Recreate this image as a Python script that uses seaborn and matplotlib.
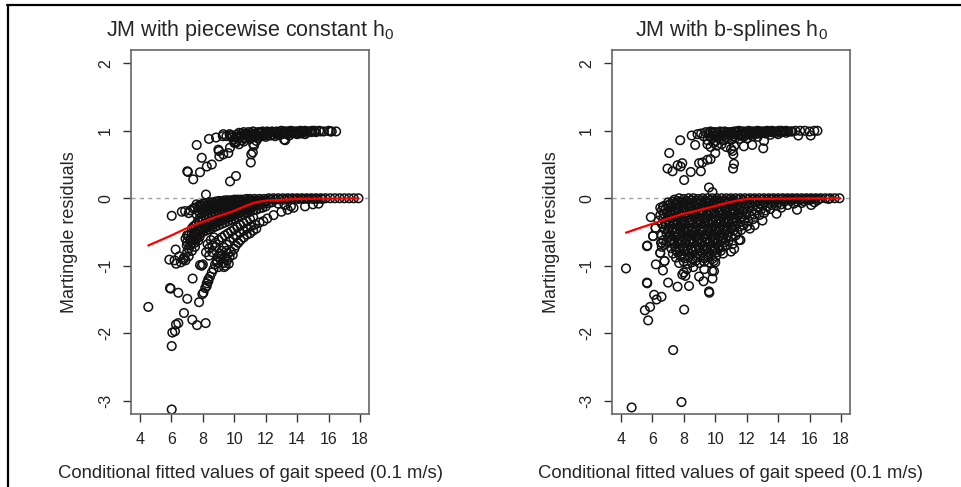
import matplotlib
matplotlib.use("Agg")
import matplotlib.pyplot as plt
from matplotlib.lines import Line2D
import seaborn as sns
import pandas as pd

sns.set_style("white")
plt.rcParams['font.family'] = ['Liberation Sans', 'DejaVu Sans']

# ---------------- data: panel 1 (piecewise constant baseline hazard) ----------------
pc_upper = [
    # dense band near 1
    (10.3,0.97),(10.6,0.98),(10.9,0.98),(11.2,0.99),(11.5,0.98),(11.8,0.99),(12.1,0.99),(12.4,0.99),
    (12.7,0.99),(13.0,1.0),(13.3,0.99),(13.6,1.0),(13.9,0.99),(14.2,1.0),(14.5,1.0),(14.8,0.99),
    (15.1,1.0),(15.4,1.0),(15.7,0.99),(16.0,1.0),(16.2,0.99),(16.48,0.99),
    (9.9,0.93),(10.15,0.94),(10.4,0.92),(10.65,0.95),(10.9,0.93),(11.15,0.95),(11.4,0.94),(11.65,0.96),
    (11.9,0.95),(12.15,0.96),(12.4,0.95),(12.65,0.97),(12.9,0.96),(13.15,0.97),(13.4,0.96),(13.7,0.98),
    (14.0,0.97),(14.3,0.98),(14.6,0.97),(14.9,0.98),(15.2,0.98),(15.5,0.99),
    (10.0,0.87),(10.25,0.89),(10.5,0.86),(10.75,0.90),(11.0,0.88),(11.25,0.91),(11.5,0.89),(11.75,0.92),
    (12.0,0.91),(12.3,0.93),(12.6,0.92),(12.9,0.94),(13.24,0.86),(13.5,0.93),(14.0,0.95),(14.5,0.95),
    (10.45,0.96),(10.75,0.95),(11.05,0.97),(11.35,0.96),(11.65,0.98),(11.95,0.97),(12.25,0.98),(12.55,0.98),
    (12.85,0.98),(13.15,0.99),(13.45,0.99),(13.75,0.99),(14.05,0.99),(14.35,0.99),(14.65,0.99),(14.95,1.0),
    (10.1,0.90),(10.35,0.91),(10.6,0.89),(10.85,0.92),(11.1,0.90),(11.35,0.92),(11.6,0.91),(11.85,0.93),
    (12.1,0.93),(12.45,0.94),(12.75,0.94),(13.05,0.95),(13.35,0.95),(13.65,0.96),(13.95,0.96),(14.25,0.96),
    (9.3,0.95),(9.5,0.92),(9.7,0.95),(9.85,0.90),(10.1,0.82),(10.3,0.80),(10.6,0.84),(11.2,0.80),(11.4,0.85),
    # scattered points below the band
    (7.61,0.79),(7.93,0.60),(7.01,0.40),(7.05,0.39),(7.39,0.28),(7.82,0.385),(8.25,0.47),(8.57,0.50),
    (8.20,0.055),(9.73,0.25),(10.11,0.33),(8.39,0.88),(8.84,0.90),(9.27,0.92),(9.73,0.93),(8.99,0.72),
    (9.02,0.70),(9.05,0.62),(9.30,0.65),(9.62,0.67),(9.73,0.75),(10.0,0.82),(10.05,0.84),(11.08,0.65),
    (11.05,0.53),(11.18,0.68),(11.26,0.78),(13.17,0.87),(16.1,0.99),(15.1,0.99),
]

pc_lower = [
    # band hugging zero
    (7.6,-0.09),(7.8,-0.10),(8.0,-0.08),(8.2,-0.07),(8.4,-0.06),(8.6,-0.06),(8.8,-0.05),(9.0,-0.04),
    (9.2,-0.04),(9.4,-0.03),(9.6,-0.03),(9.8,-0.03),(10.0,-0.02),(10.2,-0.02),(10.4,-0.02),(10.6,-0.02),
    (10.8,-0.01),(11.0,-0.01),(11.3,-0.01),(11.6,-0.01),(11.9,-0.01),(12.2,0.0),(12.5,0.0),(12.8,0.0),
    (13.1,0.0),(13.4,0.0),(13.7,0.0),(14.0,0.0),(14.3,0.0),(14.6,0.0),(14.9,0.0),(15.2,0.0),(15.5,0.0),
    (15.8,0.0),(16.1,0.0),(16.4,0.0),(16.7,0.0),(17.0,0.0),(17.3,0.0),(17.6,0.0),(17.9,0.0),
    (7.7,-0.18),(7.9,-0.17),(8.1,-0.15),(8.3,-0.14),(8.5,-0.13),(8.7,-0.12),(8.9,-0.11),(9.1,-0.10),
    (9.3,-0.09),(9.5,-0.08),(9.7,-0.08),(9.9,-0.07),(10.1,-0.06),(10.3,-0.06),(10.5,-0.05),(10.7,-0.05),
    (10.9,-0.04),(11.1,-0.04),(11.4,-0.03),(11.7,-0.03),(12.0,-0.03),(12.3,-0.02),(12.6,-0.02),(12.9,-0.02),
    (13.2,-0.02),(13.5,-0.01),(13.8,-0.01),(14.1,-0.01),(14.4,-0.01),(14.7,-0.01),(15.0,-0.01),(15.3,-0.01),
    (15.6,-0.01),
    (7.5,-0.14),(7.7,-0.13),(7.9,-0.12),(8.1,-0.11),(8.3,-0.10),(8.5,-0.09),(8.7,-0.08),(8.9,-0.08),
    (9.1,-0.07),(9.3,-0.06),(9.5,-0.05),(9.7,-0.05),(9.9,-0.04),(10.1,-0.04),(10.3,-0.03),
    # dense region above/around the smooth
    (7.3,-0.45),(7.5,-0.40),(7.7,-0.33),(7.9,-0.28),(8.1,-0.25),(8.3,-0.24),(8.5,-0.22),(8.7,-0.20),
    (8.9,-0.18),(9.1,-0.17),(9.3,-0.15),(9.5,-0.14),(9.7,-0.13),(9.9,-0.12),(10.1,-0.11),(10.3,-0.10),
    (10.5,-0.09),(10.7,-0.08),(10.9,-0.07),(11.1,-0.06),(11.3,-0.06),(11.5,-0.05),(11.7,-0.05),(12.0,-0.05),
    (12.4,-0.06),(12.8,-0.08),(13.2,-0.10),(13.6,-0.12),(13.77,-0.14),(14.5,-0.12),(15.0,-0.09),(15.36,-0.08),
    (7.4,-0.42),(7.6,-0.38),(7.8,-0.36),(8.0,-0.34),(8.2,-0.32),(8.4,-0.30),(8.6,-0.28),(8.8,-0.26),
    (9.0,-0.24),(9.2,-0.23),(9.4,-0.21),(9.6,-0.19),(9.8,-0.18),(10.0,-0.17),(10.2,-0.15),(10.4,-0.14),
    (10.6,-0.12),(10.8,-0.11),(11.0,-0.10),(11.2,-0.09),(11.4,-0.08),
    (7.6,-0.24),(7.8,-0.22),(8.0,-0.20),(8.2,-0.19),(8.4,-0.18),(8.6,-0.16),(8.8,-0.15),(9.0,-0.14),
    (9.2,-0.12),(9.4,-0.11),(9.6,-0.10),(9.8,-0.10),(10.0,-0.09),
    (7.1,-0.55),(7.3,-0.52),(7.5,-0.50),(7.7,-0.47),(7.9,-0.44),(8.1,-0.41),(8.3,-0.39),(8.5,-0.36),
    (8.7,-0.34),(8.9,-0.32),(9.1,-0.30),(9.3,-0.28),(9.5,-0.26),(9.7,-0.24),(9.9,-0.22),(10.1,-0.20),
    (10.3,-0.18),(10.5,-0.16),(10.7,-0.15),(10.9,-0.13),(11.1,-0.12),(11.3,-0.11),(11.5,-0.10),(11.7,-0.09),
    (11.9,-0.08),(12.2,-0.07),
    (7.2,-0.60),(7.4,-0.55),(7.6,-0.52),(7.8,-0.49),(8.0,-0.46),(8.2,-0.44),(8.4,-0.42),(8.6,-0.40),
    (8.8,-0.37),(9.0,-0.35),(9.2,-0.33),(9.4,-0.31),(9.6,-0.29),(9.8,-0.27),(10.0,-0.25),(10.2,-0.23),
    (10.4,-0.21),(10.6,-0.19),(10.8,-0.17),(11.0,-0.15),
    (7.0,-0.65),(7.2,-0.62),(7.4,-0.58),(7.6,-0.56),(7.8,-0.53),(8.0,-0.50),(8.2,-0.48),(8.4,-0.46),
    (8.6,-0.44),(8.8,-0.42),(9.0,-0.40),(9.2,-0.38),(9.4,-0.36),(9.6,-0.34),(9.8,-0.32),(10.0,-0.30),
    (10.2,-0.28),(10.4,-0.26),(10.6,-0.24),(10.8,-0.22),(11.0,-0.20),(11.2,-0.18),(11.4,-0.17),(11.6,-0.15),
    (11.8,-0.14),(12.0,-0.12),
    # streaks in the fan
    (8.04,-1.40),(8.15,-1.33),(8.25,-1.26),(8.35,-1.20),(8.46,-1.16),(8.57,-1.10),(8.68,-1.05),(8.78,-0.98),
    (8.90,-0.92),(8.99,-0.86),(9.10,-0.82),(9.20,-0.78),(9.35,-0.73),(9.52,-0.69),(9.70,-0.64),(9.94,-0.59),
    (10.15,-0.55),(10.37,-0.51),(10.6,-0.48),(10.8,-0.45),(11.05,-0.42),(11.32,-0.39),(11.6,-0.36),(11.85,-0.34),
    (12.1,-0.30),(12.5,-0.25),(13.0,-0.20),(13.4,-0.17),
    (8.2,-0.80),(8.4,-0.74),(8.6,-0.70),(8.8,-0.66),(9.0,-0.62),(9.2,-0.58),(9.4,-0.55),(9.6,-0.52),
    (9.8,-0.49),(10.0,-0.46),(10.2,-0.43),(10.4,-0.40),(10.6,-0.37),(10.8,-0.34),(11.0,-0.31),(11.2,-0.28),
    (8.9,-0.95),(9.0,-1.02),(9.1,-0.90),(9.2,-0.85),(9.3,-0.96),(9.4,-0.88),(9.45,-1.00),(9.55,-0.92),
    (9.6,-0.82),(9.7,-0.87),(9.8,-0.79),(9.9,-0.84),(10.0,-0.75),(10.1,-0.70),(10.25,-0.66),(10.4,-0.62),
    (10.6,-0.58),(10.8,-0.54),(11.0,-0.52),(11.2,-0.48),(11.4,-0.45),(9.35,-1.02),(9.65,-0.97),(9.5,-0.78),
    (6.8,-0.88),(6.9,-0.92),(7.0,-0.80),(7.1,-0.75),(7.2,-0.70),(7.3,-0.66),(7.4,-0.62),(7.5,-0.66),
    (7.6,-0.60),(7.7,-0.63),(7.8,-0.57),(7.1,-0.86),(7.3,-0.78),(7.5,-0.72),(7.93,-1.00),(8.0,-0.98),
    (6.6,-0.95),(6.5,-0.86),(6.27,-0.76),(6.2,-0.92),(6.3,-0.97),(6.76,-0.91),(6.98,-0.70),(6.9,-0.60),
    (7.0,-0.55),(8.3,-0.68),(8.5,-0.62),(8.7,-0.58),(8.4,-0.85),(8.6,-0.80),(8.8,-0.72),
    # isolated points
    (4.53,-1.61),(6.02,-0.26),(6.66,-0.20),(6.87,-0.19),(5.87,-0.91),(5.91,-1.33),(5.95,-1.34),(6.44,-1.40),
    (7.01,-1.49),(6.80,-1.70),(6.44,-1.85),(6.29,-1.87),(6.06,-1.99),(6.23,-1.97),(6.02,-2.19),(6.02,-3.13),
    (7.35,-1.19),(7.76,-1.54),(7.33,-1.80),(7.63,-1.88),(8.18,-1.85),(7.97,-1.42),(8.25,-1.30),(8.35,-1.23),
    (7.82,-0.99),(7.2,-0.18),(7.4,-0.15),(7.1,-0.22),
]

pc_smooth_x = [4.53, 5.91, 6.6, 7.29, 8.0, 8.67, 9.3, 9.94, 10.6, 11.21, 11.6, 12.06, 14.1, 17.9]
pc_smooth_y = [-0.70, -0.56, -0.485, -0.41, -0.35, -0.29, -0.24, -0.19, -0.125, -0.07, -0.05, -0.035, -0.01, 0.0]

# ---------------- data: panel 2 (b-splines baseline hazard) ----------------
bs_upper = [
    (9.4,0.98),(9.7,0.99),(10.0,0.98),(10.3,0.99),(10.6,0.99),(10.9,0.98),(11.2,0.99),(11.5,1.0),
    (11.8,0.99),(12.1,1.0),(12.4,0.99),(12.7,1.0),(13.0,0.99),(13.3,1.0),(13.6,1.0),(13.9,0.99),
    (14.2,1.0),(14.5,1.0),(14.8,0.99),(15.1,1.0),(15.4,1.0),(15.7,1.0),(16.0,0.99),(16.3,1.0),(16.5,1.0),
    (9.6,0.94),(9.85,0.96),(10.1,0.93),(10.35,0.95),(10.6,0.94),(10.85,0.96),(11.1,0.95),(11.35,0.97),
    (11.6,0.95),(11.85,0.97),(12.1,0.96),(12.4,0.97),(12.7,0.96),(13.0,0.98),(13.3,0.97),(13.6,0.98),
    (13.9,0.97),(14.2,0.98),(14.5,0.97),(14.9,0.99),(15.28,0.93),(16.07,0.93),
    (9.5,0.86),(9.8,0.89),(10.05,0.85),(10.3,0.88),(10.55,0.86),(10.8,0.89),(11.05,0.87),(11.3,0.90),
    (11.55,0.88),(11.8,0.91),(12.05,0.89),(12.35,0.92),(12.7,0.91),(13.1,0.85),(13.5,0.94),(14.0,0.95),
    (9.55,0.97),(9.85,0.98),(10.15,0.97),(10.45,0.98),(10.75,0.97),(11.05,0.98),(11.35,0.99),(11.65,0.99),
    (11.95,0.98),(12.25,0.99),(12.55,0.99),(12.85,0.99),(13.15,0.99),(13.45,0.99),(13.75,0.99),(14.05,1.0),
    (14.35,0.99),(14.65,0.99),(9.7,0.91),(9.95,0.92),(10.2,0.90),(10.45,0.92),(10.7,0.91),(10.95,0.93),
    (11.2,0.92),(11.45,0.94),(11.7,0.93),(11.95,0.94),(12.25,0.95),(12.55,0.95),(12.85,0.96),(13.2,0.96),
    (9.5,0.80),(9.7,0.76),(9.9,0.82),(10.1,0.78),(10.4,0.80),(10.7,0.76),(11.0,0.73),(11.2,0.77),
    (11.82,0.77),(12.35,0.79),(13.05,0.74),(10.0,0.67),(11.13,0.44),(11.19,0.51),(11.15,0.65),(11.1,0.70),
    (7.77,0.86),(7.07,0.67),(6.96,0.44),(7.28,0.40),(7.6,0.49),(7.9,0.52),(7.8,0.47),(8.02,0.27),
    (8.44,0.39),(8.72,0.79),(8.5,0.93),(8.87,0.95),(8.97,0.52),(9.18,0.53),(9.08,0.40),(9.5,0.57),
    (9.7,0.58),(9.6,0.16),(9.82,0.09),(9.1,0.96),(9.25,0.92),
]

bs_lower = [
    (7.4,-0.02),(7.7,0.0),(8.0,-0.01),(8.3,0.0),(8.6,0.0),(8.9,-0.01),(9.2,0.0),(9.5,0.0),(9.8,0.0),
    (10.1,0.0),(10.4,0.0),(10.7,0.0),(11.0,0.0),(11.3,0.0),(11.6,0.0),(11.9,0.0),(12.2,0.0),(12.5,0.0),
    (12.8,0.0),(13.1,0.0),(13.4,0.0),(13.7,0.0),(14.0,0.0),(14.3,0.0),(14.6,0.0),(14.9,0.0),(15.2,0.0),
    (15.5,0.0),(15.8,0.0),(16.1,0.0),(16.4,0.0),(16.7,0.0),(17.0,0.0),(17.3,0.0),(17.6,0.0),(17.9,0.0),
    (7.0,-0.06),(7.3,-0.05),(7.6,-0.04),(7.9,-0.05),(8.2,-0.04),(8.5,-0.03),(8.8,-0.04),(9.1,-0.03),
    (9.4,-0.04),(9.7,-0.03),(10.0,-0.03),(10.3,-0.04),(10.6,-0.03),(10.9,-0.02),(11.2,-0.03),(11.5,-0.02),
    (11.8,-0.03),(12.1,-0.02),(12.4,-0.02),(12.7,-0.03),(13.0,-0.02),(13.3,-0.02),(13.6,-0.01),(13.9,-0.02),
    (14.2,-0.01),(14.5,-0.02),(14.8,-0.01),(15.1,-0.01),(15.4,-0.02),(15.7,-0.01),(16.0,-0.01),(16.3,-0.01),
    (16.6,-0.01),(17.2,-0.01),
    (6.7,-0.12),(7.0,-0.10),(7.2,-0.13),(7.45,-0.09),(7.7,-0.11),(7.95,-0.10),(8.2,-0.09),(8.45,-0.11),
    (8.7,-0.10),(8.95,-0.09),(9.2,-0.10),(9.45,-0.08),(9.7,-0.10),(9.95,-0.09),(10.2,-0.08),(10.45,-0.10),
    (10.7,-0.08),(10.95,-0.09),(11.2,-0.07),(11.45,-0.09),(11.7,-0.07),(11.95,-0.08),(12.2,-0.07),(12.5,-0.06),
    (12.8,-0.08),(13.1,-0.06),(13.4,-0.07),(13.7,-0.05),(14.0,-0.06),(14.4,-0.05),(14.8,-0.04),(15.2,-0.05),
    (15.6,-0.04),(16.0,-0.03),(16.5,-0.03),
    (6.6,-0.18),(6.85,-0.16),(7.1,-0.19),(7.35,-0.17),(7.6,-0.16),(7.85,-0.18),(8.1,-0.17),(8.35,-0.15),
    (8.6,-0.18),(8.85,-0.16),(9.1,-0.17),(9.35,-0.15),(9.6,-0.17),(9.85,-0.16),(10.1,-0.15),(10.35,-0.17),
    (10.6,-0.15),(10.85,-0.14),(11.1,-0.16),(11.35,-0.14),(11.6,-0.13),(11.85,-0.15),(12.1,-0.13),(12.4,-0.12),
    (12.7,-0.13),(13.0,-0.11),(13.3,-0.12),(13.6,-0.10),(13.9,-0.11),(14.2,-0.09),(14.6,-0.10),(15.0,-0.08),
    (15.2,-0.17),(15.5,-0.07),(16.1,-0.10),(16.3,-0.06),
    (6.5,-0.25),(6.75,-0.23),(7.0,-0.26),(7.25,-0.24),(7.5,-0.22),(7.75,-0.25),(8.0,-0.23),(8.25,-0.24),
    (8.5,-0.22),(8.75,-0.25),(9.0,-0.23),(9.25,-0.22),(9.5,-0.24),(9.75,-0.22),(10.0,-0.23),(10.25,-0.21),
    (10.5,-0.23),(10.75,-0.21),(11.0,-0.22),(11.25,-0.20),(11.5,-0.21),(11.75,-0.19),(12.0,-0.20),(12.3,-0.19),
    (12.6,-0.18),(12.9,-0.17),(13.2,-0.18),(13.5,-0.16),(13.9,-0.23),(14.2,-0.14),
    (6.4,-0.33),(6.7,-0.30),(6.95,-0.32),(7.2,-0.29),(7.45,-0.31),(7.7,-0.30),(7.95,-0.32),(8.2,-0.30),
    (8.45,-0.31),(8.7,-0.29),(8.95,-0.31),(9.2,-0.30),(9.45,-0.29),(9.7,-0.31),(9.95,-0.29),(10.2,-0.30),
    (10.45,-0.28),(10.7,-0.29),(10.95,-0.27),(11.2,-0.28),(11.45,-0.26),(11.7,-0.27),(11.95,-0.25),(12.2,-0.26),
    (12.5,-0.24),(12.8,-0.25),(13.1,-0.22),
    (6.2,-0.44),(6.6,-0.38),(6.85,-0.40),(7.1,-0.37),(7.35,-0.39),(7.6,-0.38),(7.85,-0.36),(8.1,-0.39),
    (8.35,-0.37),(8.6,-0.38),(8.85,-0.36),(9.1,-0.38),(9.35,-0.37),(9.6,-0.39),(9.85,-0.36),(10.1,-0.38),
    (10.35,-0.36),(10.6,-0.37),(10.85,-0.35),(11.1,-0.36),(11.35,-0.34),(11.6,-0.35),(11.85,-0.33),(12.1,-0.34),
    (12.4,-0.31),
    (6.04,-0.56),(6.8,-0.46),(7.05,-0.44),(7.3,-0.46),(7.55,-0.45),(7.8,-0.43),(8.05,-0.46),(8.3,-0.44),
    (8.55,-0.45),(8.8,-0.43),(9.05,-0.46),(9.3,-0.44),(9.55,-0.45),(9.8,-0.43),(10.05,-0.45),(10.3,-0.43),
    (10.55,-0.44),(10.8,-0.42),(11.05,-0.43),(11.3,-0.41),(11.55,-0.42),(11.8,-0.40),(12.05,-0.41),(12.2,-0.45),
    (6.6,-0.55),(6.9,-0.52),(7.15,-0.54),(7.4,-0.51),(7.65,-0.53),(7.9,-0.52),(8.15,-0.50),(8.4,-0.53),
    (8.65,-0.51),(8.9,-0.52),(9.15,-0.50),(9.4,-0.53),(9.65,-0.51),(9.9,-0.52),(10.15,-0.50),(10.4,-0.51),
    (10.65,-0.49),(10.9,-0.50),(11.15,-0.48),(11.4,-0.49),(11.65,-0.47),
    (6.7,-0.62),(7.0,-0.59),(7.25,-0.61),(7.5,-0.58),(7.75,-0.60),(8.0,-0.59),(8.25,-0.57),(8.5,-0.60),
    (8.75,-0.58),(9.0,-0.59),(9.25,-0.57),(9.5,-0.60),(9.75,-0.58),(10.0,-0.59),(10.25,-0.57),(10.5,-0.58),
    (10.75,-0.56),(11.0,-0.57),(11.3,-0.55),(11.5,-0.62),
    (6.55,-0.66),(6.85,-0.68),(7.1,-0.65),(7.35,-0.67),(7.6,-0.66),(7.85,-0.64),(8.1,-0.67),(8.35,-0.65),
    (8.6,-0.66),(8.85,-0.64),(9.1,-0.67),(9.35,-0.65),(9.6,-0.66),(9.85,-0.64),(10.1,-0.66),(10.35,-0.64),
    (10.6,-0.65),(10.85,-0.63),(11.1,-0.68),
    (6.6,-0.72),(7.2,-0.74),(7.45,-0.72),(7.7,-0.75),(7.95,-0.73),(8.2,-0.71),(8.45,-0.74),(8.7,-0.72),
    (8.95,-0.73),(9.2,-0.71),(9.45,-0.74),(9.7,-0.72),(9.95,-0.73),(10.2,-0.71),(10.45,-0.72),(10.7,-0.70),
    (11.0,-0.79),
    (6.5,-0.81),(7.3,-0.82),(7.6,-0.80),(7.85,-0.83),(8.1,-0.79),(8.35,-0.81),(8.6,-0.79),(8.85,-0.82),
    (9.1,-0.80),(9.35,-0.78),(9.6,-0.81),(9.85,-0.79),(10.1,-0.80),(10.35,-0.78),
    (6.77,-0.93),(7.5,-0.88),(7.8,-0.86),(8.05,-0.89),(8.3,-0.87),(8.55,-0.90),(8.8,-0.88),(9.05,-0.86),
    (9.3,-0.89),(9.55,-0.87),(9.8,-0.90),(10.05,-0.86),
    (7.7,-0.96),(8.0,-0.94),(8.25,-0.97),(8.5,-0.95),(8.75,-0.93),(9.0,-0.96),(9.3,-0.94),(9.6,-0.95),(9.9,-0.93),
    # extra fill of the dense core
    (7.15,-0.08),(7.55,-0.07),(7.85,-0.07),(8.1,-0.06),(8.35,-0.07),(8.6,-0.06),(8.85,-0.07),(9.1,-0.06),
    (9.35,-0.06),(9.6,-0.06),(9.85,-0.06),(10.1,-0.05),(10.35,-0.06),(10.6,-0.05),(10.85,-0.05),(11.1,-0.05),
    (6.9,-0.21),(7.2,-0.21),(7.45,-0.20),(7.7,-0.21),(7.95,-0.20),(8.2,-0.21),(8.45,-0.19),(8.7,-0.21),
    (8.95,-0.20),(9.2,-0.19),(9.45,-0.20),(9.7,-0.19),(9.95,-0.20),(10.2,-0.18),(10.45,-0.19),(10.7,-0.18),
    (10.95,-0.18),(11.2,-0.17),(11.5,-0.17),
    (6.8,-0.35),(7.05,-0.34),(7.3,-0.35),(7.55,-0.34),(7.8,-0.33),(8.05,-0.35),(8.3,-0.34),(8.55,-0.33),
    (8.8,-0.34),(9.05,-0.33),(9.3,-0.34),(9.55,-0.33),(9.8,-0.32),(10.05,-0.33),(10.3,-0.32),(10.55,-0.32),
    (10.8,-0.31),(11.05,-0.31),(11.3,-0.30),(11.6,-0.30),
    (7.0,-0.49),(7.25,-0.48),(7.5,-0.49),(7.75,-0.48),(8.0,-0.49),(8.25,-0.47),(8.5,-0.48),(8.75,-0.47),
    (9.0,-0.48),(9.25,-0.47),(9.5,-0.48),(9.75,-0.47),(10.0,-0.47),(10.25,-0.46),(10.5,-0.47),(10.75,-0.46),
    (11.0,-0.45),
    (7.15,-0.63),(7.4,-0.63),(7.65,-0.62),(7.9,-0.63),(8.15,-0.62),(8.4,-0.63),(8.65,-0.62),(8.9,-0.61),
    (9.15,-0.62),(9.4,-0.61),(9.65,-0.62),(9.9,-0.61),(10.15,-0.61),(10.4,-0.60),(10.65,-0.60),
    (7.5,-0.77),(7.75,-0.78),(8.0,-0.77),(8.25,-0.76),(8.5,-0.77),(8.75,-0.76),(9.0,-0.77),(9.25,-0.75),
    (9.5,-0.76),(9.75,-0.75),(10.0,-0.76),(10.25,-0.74),
    (8.2,-1.05),(8.0,-1.10),(7.9,-1.13),(8.1,-1.15),(8.6,-1.02),(9.3,-1.05),(9.8,-1.08),(10.0,-0.95),
    (10.5,-0.82),(11.2,-0.75),(11.6,-0.62),(12.5,-0.40),(13.0,-0.33),
    # isolated points
    (4.32,-1.04),(4.68,-3.10),(7.85,-3.02),(7.32,-2.25),(8.02,-1.65),(5.52,-1.66),(5.73,-1.81),(5.85,-1.61),
    (6.11,-1.43),(6.27,-1.50),(6.58,-1.46),(5.65,-1.25),(5.67,-1.26),(7.0,-1.25),(7.6,-1.31),(8.33,-1.30),
    (9.6,-1.38),(9.62,-1.40),(9.25,-1.23),(9.82,-1.19),(9.92,-1.08),(8.97,-1.16),(6.22,-0.98),(6.67,-1.07),
    (5.9,-0.28),(6.04,-0.56),(5.65,-0.71),(5.68,-0.70),(6.2,-0.44),(6.5,-0.14),(6.7,-0.12),(6.6,-0.66),
    (6.77,-0.93),(6.5,-0.81),
]

bs_smooth_x = [4.32, 5.2, 6.11, 7.0, 7.81, 8.9, 9.92, 10.7, 11.4, 12.04, 17.95]
bs_smooth_y = [-0.51, -0.44, -0.37, -0.30, -0.24, -0.18, -0.12, -0.07, -0.034, -0.01, 0.0]

titles = ["JM with piecewise constant $\\mathregular{h_0}$", "JM with b-splines $\\mathregular{h_0}$"]
xlabel = "Conditional fitted values of gait speed (0.1 m/s)"
ylabel = "Martingale residuals"
x_ticks = [4, 6, 8, 10, 12, 14, 16, 18]
y_ticks = [-3, -2, -1, 0, 1, 2]

# ---------------- figure ----------------
fig = plt.figure(figsize=(9.61, 4.87), dpi=100)
W, H = 961.0, 487.0
ax_positions = [
    [131 / W, 1 - 414 / H, 238 / W, 364 / H],
    [612 / W, 1 - 414 / H, 238 / W, 364 / H],
]

panels = [
    (pc_upper + pc_lower, pc_smooth_x, pc_smooth_y),
    (bs_upper + bs_lower, bs_smooth_x, bs_smooth_y),
]

for i, (pts, sx, sy) in enumerate(panels):
    ax = fig.add_axes(ax_positions[i])
    df = pd.DataFrame(pts, columns=["fitted", "resid"])
    ax.axhline(0, color="#a0a0a0", lw=1.0, ls=(0, (3, 3)), zorder=1)
    sns.scatterplot(data=df, x="fitted", y="resid", ax=ax, marker="o",
                    fc="none", ec="#111111", linewidth=1.1, s=38, zorder=2, legend=False)
    sm = pd.DataFrame({"fitted": sx, "resid": sy})
    sns.lineplot(data=sm, x="fitted", y="resid", ax=ax, color="red", lw=1.6,
                 sort=False, estimator=None, zorder=3)
    ax.set_xlim(3.43, 18.57)
    ax.set_ylim(-3.197, 2.197)
    ax.set_xticks(x_ticks)
    ax.set_yticks(y_ticks)
    ax.set_xticklabels([str(t) for t in x_ticks])
    ax.set_yticklabels([str(t) for t in y_ticks], rotation=90, va="center")
    ax.tick_params(axis="both", direction="out", length=6, width=1.0, color="#333333",
                   labelsize=11.5, labelcolor="#222222", pad=7, bottom=True, left=True)
    for side in ["top", "right", "left", "bottom"]:
        ax.spines[side].set_visible(True)
        ax.spines[side].set_color("#666666")
        ax.spines[side].set_linewidth(1.2)
    ax.set_title(titles[i], fontsize=15.5, pad=10)
    ax.set_xlabel(xlabel, fontsize=13.3, labelpad=13)
    ax.set_ylabel(ylabel, fontsize=13, labelpad=14)
    ax.grid(False)

# outer frame lines of the screenshot
fig.add_artist(Line2D([7 / W, 1.0], [1 - 5 / H, 1 - 5 / H], color="black", lw=1.6,
                      transform=fig.transFigure))
fig.add_artist(Line2D([8 / W, 8 / W], [0.0, 1 - 5 / H], color="black", lw=1.6,
                      transform=fig.transFigure))

fig.savefig("out.png", dpi=100, facecolor="white")
